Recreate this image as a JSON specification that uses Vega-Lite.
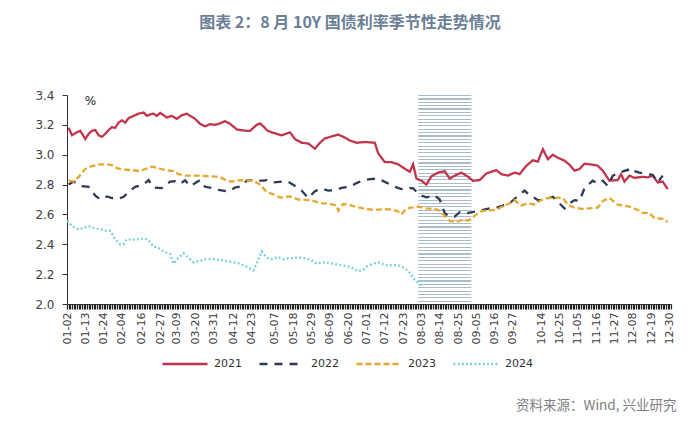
{
"$schema": "https://vega.github.io/schema/vega-lite/v6.json",
"width": 604, "height": 209,
"autosize": {"type": "none"},
"padding": {"left": 67, "top": 95, "right": 29, "bottom": 117},
"background": "white",
"title": {"text": "图表 2：8 月 10Y 国债利率季节性走势情况", "font": "Noto Sans CJK SC", "fontSize": 16, "fontWeight": "bold", "color": "#6b7f96", "anchor": "middle", "frame": "group", "offset": 58, "dx": -19},
"config": {"view": {"stroke": null}, "axis": {"grid": false}},
"resolve": {"axis": {"x": "independent"}},
"layer": [
{
"data": {"values": [{"md": "08-01", "end": "09-02"}], "format": {"parse": {"md": "utc:'%m-%d'", "end": "utc:'%m-%d'"}}},
"mark": {"type": "rect", "fill": {"gradient": "linear", "x1": 0, "y1": 0, "x2": 0, "y2": 1, "stops": [
{"offset":0,"color":"#a9bccb"},{"offset":0.0055,"color":"#a9bccb"},{"offset":0.0055,"color":"#ffffff"},{"offset":0.0161,"color":"#ffffff"},
{"offset":0.0161,"color":"#a9bccb"},{"offset":0.0216,"color":"#a9bccb"},{"offset":0.0216,"color":"#ffffff"},{"offset":0.0323,"color":"#ffffff"},
{"offset":0.0323,"color":"#a9bccb"},{"offset":0.0378,"color":"#a9bccb"},{"offset":0.0378,"color":"#ffffff"},{"offset":0.0484,"color":"#ffffff"},
{"offset":0.0484,"color":"#a9bccb"},{"offset":0.0539,"color":"#a9bccb"},{"offset":0.0539,"color":"#ffffff"},{"offset":0.0645,"color":"#ffffff"},
{"offset":0.0645,"color":"#a9bccb"},{"offset":0.07,"color":"#a9bccb"},{"offset":0.07,"color":"#ffffff"},{"offset":0.0806,"color":"#ffffff"},
{"offset":0.0806,"color":"#a9bccb"},{"offset":0.0861,"color":"#a9bccb"},{"offset":0.0861,"color":"#ffffff"},{"offset":0.0968,"color":"#ffffff"},
{"offset":0.0968,"color":"#a9bccb"},{"offset":0.1023,"color":"#a9bccb"},{"offset":0.1023,"color":"#ffffff"},{"offset":0.1129,"color":"#ffffff"},
{"offset":0.1129,"color":"#a9bccb"},{"offset":0.1184,"color":"#a9bccb"},{"offset":0.1184,"color":"#ffffff"},{"offset":0.129,"color":"#ffffff"},
{"offset":0.129,"color":"#a9bccb"},{"offset":0.1345,"color":"#a9bccb"},{"offset":0.1345,"color":"#ffffff"},{"offset":0.1452,"color":"#ffffff"},
{"offset":0.1452,"color":"#a9bccb"},{"offset":0.1507,"color":"#a9bccb"},{"offset":0.1507,"color":"#ffffff"},{"offset":0.1613,"color":"#ffffff"},
{"offset":0.1613,"color":"#a9bccb"},{"offset":0.1668,"color":"#a9bccb"},{"offset":0.1668,"color":"#ffffff"},{"offset":0.1774,"color":"#ffffff"},
{"offset":0.1774,"color":"#a9bccb"},{"offset":0.1829,"color":"#a9bccb"},{"offset":0.1829,"color":"#ffffff"},{"offset":0.1935,"color":"#ffffff"},
{"offset":0.1935,"color":"#a9bccb"},{"offset":0.199,"color":"#a9bccb"},{"offset":0.199,"color":"#ffffff"},{"offset":0.2097,"color":"#ffffff"},
{"offset":0.2097,"color":"#a9bccb"},{"offset":0.2152,"color":"#a9bccb"},{"offset":0.2152,"color":"#ffffff"},{"offset":0.2258,"color":"#ffffff"},
{"offset":0.2258,"color":"#a9bccb"},{"offset":0.2313,"color":"#a9bccb"},{"offset":0.2313,"color":"#ffffff"},{"offset":0.2419,"color":"#ffffff"},
{"offset":0.2419,"color":"#a9bccb"},{"offset":0.2474,"color":"#a9bccb"},{"offset":0.2474,"color":"#ffffff"},{"offset":0.2581,"color":"#ffffff"},
{"offset":0.2581,"color":"#a9bccb"},{"offset":0.2636,"color":"#a9bccb"},{"offset":0.2636,"color":"#ffffff"},{"offset":0.2742,"color":"#ffffff"},
{"offset":0.2742,"color":"#a9bccb"},{"offset":0.2797,"color":"#a9bccb"},{"offset":0.2797,"color":"#ffffff"},{"offset":0.2903,"color":"#ffffff"},
{"offset":0.2903,"color":"#a9bccb"},{"offset":0.2958,"color":"#a9bccb"},{"offset":0.2958,"color":"#ffffff"},{"offset":0.3065,"color":"#ffffff"},
{"offset":0.3065,"color":"#a9bccb"},{"offset":0.312,"color":"#a9bccb"},{"offset":0.312,"color":"#ffffff"},{"offset":0.3226,"color":"#ffffff"},
{"offset":0.3226,"color":"#a9bccb"},{"offset":0.3281,"color":"#a9bccb"},{"offset":0.3281,"color":"#ffffff"},{"offset":0.3387,"color":"#ffffff"},
{"offset":0.3387,"color":"#a9bccb"},{"offset":0.3442,"color":"#a9bccb"},{"offset":0.3442,"color":"#ffffff"},{"offset":0.3548,"color":"#ffffff"},
{"offset":0.3548,"color":"#a9bccb"},{"offset":0.3603,"color":"#a9bccb"},{"offset":0.3603,"color":"#ffffff"},{"offset":0.371,"color":"#ffffff"},
{"offset":0.371,"color":"#a9bccb"},{"offset":0.3765,"color":"#a9bccb"},{"offset":0.3765,"color":"#ffffff"},{"offset":0.3871,"color":"#ffffff"},
{"offset":0.3871,"color":"#a9bccb"},{"offset":0.3926,"color":"#a9bccb"},{"offset":0.3926,"color":"#ffffff"},{"offset":0.4032,"color":"#ffffff"},
{"offset":0.4032,"color":"#a9bccb"},{"offset":0.4087,"color":"#a9bccb"},{"offset":0.4087,"color":"#ffffff"},{"offset":0.4194,"color":"#ffffff"},
{"offset":0.4194,"color":"#a9bccb"},{"offset":0.4249,"color":"#a9bccb"},{"offset":0.4249,"color":"#ffffff"},{"offset":0.4355,"color":"#ffffff"},
{"offset":0.4355,"color":"#a9bccb"},{"offset":0.441,"color":"#a9bccb"},{"offset":0.441,"color":"#ffffff"},{"offset":0.4516,"color":"#ffffff"},
{"offset":0.4516,"color":"#a9bccb"},{"offset":0.4571,"color":"#a9bccb"},{"offset":0.4571,"color":"#ffffff"},{"offset":0.4677,"color":"#ffffff"},
{"offset":0.4677,"color":"#a9bccb"},{"offset":0.4732,"color":"#a9bccb"},{"offset":0.4732,"color":"#ffffff"},{"offset":0.4839,"color":"#ffffff"},
{"offset":0.4839,"color":"#a9bccb"},{"offset":0.4894,"color":"#a9bccb"},{"offset":0.4894,"color":"#ffffff"},{"offset":0.5,"color":"#ffffff"},
{"offset":0.5,"color":"#a9bccb"},{"offset":0.5055,"color":"#a9bccb"},{"offset":0.5055,"color":"#ffffff"},{"offset":0.5161,"color":"#ffffff"},
{"offset":0.5161,"color":"#a9bccb"},{"offset":0.5216,"color":"#a9bccb"},{"offset":0.5216,"color":"#ffffff"},{"offset":0.5323,"color":"#ffffff"},
{"offset":0.5323,"color":"#a9bccb"},{"offset":0.5378,"color":"#a9bccb"},{"offset":0.5378,"color":"#ffffff"},{"offset":0.5484,"color":"#ffffff"},
{"offset":0.5484,"color":"#a9bccb"},{"offset":0.5539,"color":"#a9bccb"},{"offset":0.5539,"color":"#ffffff"},{"offset":0.5645,"color":"#ffffff"},
{"offset":0.5645,"color":"#a9bccb"},{"offset":0.57,"color":"#a9bccb"},{"offset":0.57,"color":"#ffffff"},{"offset":0.5806,"color":"#ffffff"},
{"offset":0.5806,"color":"#a9bccb"},{"offset":0.5861,"color":"#a9bccb"},{"offset":0.5861,"color":"#ffffff"},{"offset":0.5968,"color":"#ffffff"},
{"offset":0.5968,"color":"#a9bccb"},{"offset":0.6023,"color":"#a9bccb"},{"offset":0.6023,"color":"#ffffff"},{"offset":0.6129,"color":"#ffffff"},
{"offset":0.6129,"color":"#a9bccb"},{"offset":0.6184,"color":"#a9bccb"},{"offset":0.6184,"color":"#ffffff"},{"offset":0.629,"color":"#ffffff"},
{"offset":0.629,"color":"#a9bccb"},{"offset":0.6345,"color":"#a9bccb"},{"offset":0.6345,"color":"#ffffff"},{"offset":0.6452,"color":"#ffffff"},
{"offset":0.6452,"color":"#a9bccb"},{"offset":0.6507,"color":"#a9bccb"},{"offset":0.6507,"color":"#ffffff"},{"offset":0.6613,"color":"#ffffff"},
{"offset":0.6613,"color":"#a9bccb"},{"offset":0.6668,"color":"#a9bccb"},{"offset":0.6668,"color":"#ffffff"},{"offset":0.6774,"color":"#ffffff"},
{"offset":0.6774,"color":"#a9bccb"},{"offset":0.6829,"color":"#a9bccb"},{"offset":0.6829,"color":"#ffffff"},{"offset":0.6935,"color":"#ffffff"},
{"offset":0.6935,"color":"#a9bccb"},{"offset":0.699,"color":"#a9bccb"},{"offset":0.699,"color":"#ffffff"},{"offset":0.7097,"color":"#ffffff"},
{"offset":0.7097,"color":"#a9bccb"},{"offset":0.7152,"color":"#a9bccb"},{"offset":0.7152,"color":"#ffffff"},{"offset":0.7258,"color":"#ffffff"},
{"offset":0.7258,"color":"#a9bccb"},{"offset":0.7313,"color":"#a9bccb"},{"offset":0.7313,"color":"#ffffff"},{"offset":0.7419,"color":"#ffffff"},
{"offset":0.7419,"color":"#a9bccb"},{"offset":0.7474,"color":"#a9bccb"},{"offset":0.7474,"color":"#ffffff"},{"offset":0.7581,"color":"#ffffff"},
{"offset":0.7581,"color":"#a9bccb"},{"offset":0.7636,"color":"#a9bccb"},{"offset":0.7636,"color":"#ffffff"},{"offset":0.7742,"color":"#ffffff"},
{"offset":0.7742,"color":"#a9bccb"},{"offset":0.7797,"color":"#a9bccb"},{"offset":0.7797,"color":"#ffffff"},{"offset":0.7903,"color":"#ffffff"},
{"offset":0.7903,"color":"#a9bccb"},{"offset":0.7958,"color":"#a9bccb"},{"offset":0.7958,"color":"#ffffff"},{"offset":0.8065,"color":"#ffffff"},
{"offset":0.8065,"color":"#a9bccb"},{"offset":0.812,"color":"#a9bccb"},{"offset":0.812,"color":"#ffffff"},{"offset":0.8226,"color":"#ffffff"},
{"offset":0.8226,"color":"#a9bccb"},{"offset":0.8281,"color":"#a9bccb"},{"offset":0.8281,"color":"#ffffff"},{"offset":0.8387,"color":"#ffffff"},
{"offset":0.8387,"color":"#a9bccb"},{"offset":0.8442,"color":"#a9bccb"},{"offset":0.8442,"color":"#ffffff"},{"offset":0.8548,"color":"#ffffff"},
{"offset":0.8548,"color":"#a9bccb"},{"offset":0.8603,"color":"#a9bccb"},{"offset":0.8603,"color":"#ffffff"},{"offset":0.871,"color":"#ffffff"},
{"offset":0.871,"color":"#a9bccb"},{"offset":0.8765,"color":"#a9bccb"},{"offset":0.8765,"color":"#ffffff"},{"offset":0.8871,"color":"#ffffff"},
{"offset":0.8871,"color":"#a9bccb"},{"offset":0.8926,"color":"#a9bccb"},{"offset":0.8926,"color":"#ffffff"},{"offset":0.9032,"color":"#ffffff"},
{"offset":0.9032,"color":"#a9bccb"},{"offset":0.9087,"color":"#a9bccb"},{"offset":0.9087,"color":"#ffffff"},{"offset":0.9194,"color":"#ffffff"},
{"offset":0.9194,"color":"#a9bccb"},{"offset":0.9249,"color":"#a9bccb"},{"offset":0.9249,"color":"#ffffff"},{"offset":0.9355,"color":"#ffffff"},
{"offset":0.9355,"color":"#a9bccb"},{"offset":0.941,"color":"#a9bccb"},{"offset":0.941,"color":"#ffffff"},{"offset":0.9516,"color":"#ffffff"},
{"offset":0.9516,"color":"#a9bccb"},{"offset":0.9571,"color":"#a9bccb"},{"offset":0.9571,"color":"#ffffff"},{"offset":0.9677,"color":"#ffffff"},
{"offset":0.9677,"color":"#a9bccb"},{"offset":0.9732,"color":"#a9bccb"},{"offset":0.9732,"color":"#ffffff"},{"offset":0.9839,"color":"#ffffff"},
{"offset":0.9839,"color":"#a9bccb"},{"offset":0.9894,"color":"#a9bccb"},{"offset":0.9894,"color":"#ffffff"},{"offset":1,"color":"#ffffff"}
]}},
"encoding": {
"x": {"field": "md", "type": "temporal", "scale": {"type": "utc"}, "axis": null},
"x2": {"field": "end"}
}
},
{
"data": {"values": [
{"year":"2021","md":"01-03","v":3.18},{"year":"2021","md":"01-05","v":3.13},{"year":"2021","md":"01-08","v":3.15},{"year":"2021","md":"01-10","v":3.16},{"year":"2021","md":"01-13","v":3.105},{"year":"2021","md":"01-15","v":3.14},{"year":"2021","md":"01-17","v":3.16},{"year":"2021","md":"01-19","v":3.165},{"year":"2021","md":"01-21","v":3.13},{"year":"2021","md":"01-23","v":3.12},{"year":"2021","md":"01-25","v":3.14},{"year":"2021","md":"01-27","v":3.165},{"year":"2021","md":"01-29","v":3.185},{"year":"2021","md":"01-31","v":3.18},{"year":"2021","md":"02-02","v":3.215},{"year":"2021","md":"02-04","v":3.23},{"year":"2021","md":"02-06","v":3.215},{"year":"2021","md":"02-08","v":3.245},{"year":"2021","md":"02-11","v":3.26},{"year":"2021","md":"02-14","v":3.275},{"year":"2021","md":"02-17","v":3.283},{"year":"2021","md":"02-19","v":3.26},{"year":"2021","md":"02-21","v":3.27},{"year":"2021","md":"02-23","v":3.275},{"year":"2021","md":"02-25","v":3.26},{"year":"2021","md":"02-27","v":3.28},{"year":"2021","md":"03-03","v":3.25},{"year":"2021","md":"03-06","v":3.26},{"year":"2021","md":"03-09","v":3.24},{"year":"2021","md":"03-12","v":3.265},{"year":"2021","md":"03-15","v":3.275},{"year":"2021","md":"03-17","v":3.26},{"year":"2021","md":"03-20","v":3.24},{"year":"2021","md":"03-23","v":3.207},{"year":"2021","md":"03-26","v":3.19},{"year":"2021","md":"03-29","v":3.205},{"year":"2021","md":"04-01","v":3.2},{"year":"2021","md":"04-04","v":3.21},{"year":"2021","md":"04-07","v":3.225},{"year":"2021","md":"04-10","v":3.207},{"year":"2021","md":"04-14","v":3.17},{"year":"2021","md":"04-16","v":3.165},{"year":"2021","md":"04-20","v":3.16},{"year":"2021","md":"04-22","v":3.16},{"year":"2021","md":"04-26","v":3.2},{"year":"2021","md":"04-28","v":3.21},{"year":"2021","md":"04-30","v":3.19},{"year":"2021","md":"05-02","v":3.165},{"year":"2021","md":"05-05","v":3.15},{"year":"2021","md":"05-08","v":3.14},{"year":"2021","md":"05-11","v":3.13},{"year":"2021","md":"05-16","v":3.15},{"year":"2021","md":"05-19","v":3.105},{"year":"2021","md":"05-23","v":3.08},{"year":"2021","md":"05-27","v":3.075},{"year":"2021","md":"05-31","v":3.04},{"year":"2021","md":"06-03","v":3.08},{"year":"2021","md":"06-06","v":3.11},{"year":"2021","md":"06-11","v":3.125},{"year":"2021","md":"06-14","v":3.135},{"year":"2021","md":"06-17","v":3.12},{"year":"2021","md":"06-21","v":3.095},{"year":"2021","md":"06-25","v":3.08},{"year":"2021","md":"06-30","v":3.085},{"year":"2021","md":"07-06","v":3.08},{"year":"2021","md":"07-08","v":3.01},{"year":"2021","md":"07-12","v":2.95},{"year":"2021","md":"07-16","v":2.95},{"year":"2021","md":"07-20","v":2.936},{"year":"2021","md":"07-23","v":2.914},{"year":"2021","md":"07-27","v":2.885},{"year":"2021","md":"07-29","v":2.936},{"year":"2021","md":"07-31","v":2.84},{"year":"2021","md":"08-03","v":2.826},{"year":"2021","md":"08-06","v":2.8},{"year":"2021","md":"08-09","v":2.855},{"year":"2021","md":"08-13","v":2.88},{"year":"2021","md":"08-17","v":2.89},{"year":"2021","md":"08-20","v":2.84},{"year":"2021","md":"08-24","v":2.865},{"year":"2021","md":"08-27","v":2.88},{"year":"2021","md":"08-30","v":2.86},{"year":"2021","md":"09-03","v":2.826},{"year":"2021","md":"09-07","v":2.83},{"year":"2021","md":"09-11","v":2.874},{"year":"2021","md":"09-17","v":2.897},{"year":"2021","md":"09-20","v":2.87},{"year":"2021","md":"09-24","v":2.86},{"year":"2021","md":"09-28","v":2.88},{"year":"2021","md":"10-01","v":2.87},{"year":"2021","md":"10-05","v":2.925},{"year":"2021","md":"10-09","v":2.963},{"year":"2021","md":"10-12","v":2.954},{"year":"2021","md":"10-15","v":3.037},{"year":"2021","md":"10-18","v":2.97},{"year":"2021","md":"10-21","v":3.0},{"year":"2021","md":"10-24","v":2.98},{"year":"2021","md":"10-28","v":2.96},{"year":"2021","md":"10-31","v":2.933},{"year":"2021","md":"11-03","v":2.893},{"year":"2021","md":"11-06","v":2.904},{"year":"2021","md":"11-09","v":2.94},{"year":"2021","md":"11-14","v":2.933},{"year":"2021","md":"11-17","v":2.926},{"year":"2021","md":"11-20","v":2.893},{"year":"2021","md":"11-24","v":2.826},{"year":"2021","md":"11-29","v":2.83},{"year":"2021","md":"12-01","v":2.87},{"year":"2021","md":"12-03","v":2.82},{"year":"2021","md":"12-06","v":2.86},{"year":"2021","md":"12-09","v":2.845},{"year":"2021","md":"12-14","v":2.852},{"year":"2021","md":"12-17","v":2.848},{"year":"2021","md":"12-20","v":2.86},{"year":"2021","md":"12-23","v":2.814},{"year":"2021","md":"12-26","v":2.82},{"year":"2021","md":"12-29","v":2.77},
{"year":"2022","md":"01-03","v":2.8},{"year":"2022","md":"01-06","v":2.82},{"year":"2022","md":"01-11","v":2.79},{"year":"2022","md":"01-15","v":2.785},{"year":"2022","md":"01-19","v":2.725},{"year":"2022","md":"01-22","v":2.7},{"year":"2022","md":"01-26","v":2.72},{"year":"2022","md":"01-29","v":2.71},{"year":"2022","md":"02-02","v":2.705},{"year":"2022","md":"02-05","v":2.718},{"year":"2022","md":"02-09","v":2.76},{"year":"2022","md":"02-12","v":2.785},{"year":"2022","md":"02-17","v":2.8},{"year":"2022","md":"02-20","v":2.83},{"year":"2022","md":"02-23","v":2.78},{"year":"2022","md":"02-28","v":2.776},{"year":"2022","md":"03-05","v":2.82},{"year":"2022","md":"03-08","v":2.822},{"year":"2022","md":"03-11","v":2.805},{"year":"2022","md":"03-14","v":2.828},{"year":"2022","md":"03-17","v":2.79},{"year":"2022","md":"03-23","v":2.83},{"year":"2022","md":"03-26","v":2.785},{"year":"2022","md":"03-31","v":2.776},{"year":"2022","md":"04-04","v":2.762},{"year":"2022","md":"04-09","v":2.754},{"year":"2022","md":"04-13","v":2.78},{"year":"2022","md":"04-17","v":2.79},{"year":"2022","md":"04-20","v":2.826},{"year":"2022","md":"04-24","v":2.83},{"year":"2022","md":"04-27","v":2.826},{"year":"2022","md":"04-30","v":2.826},{"year":"2022","md":"05-02","v":2.83},{"year":"2022","md":"05-06","v":2.814},{"year":"2022","md":"05-12","v":2.82},{"year":"2022","md":"05-15","v":2.818},{"year":"2022","md":"05-20","v":2.785},{"year":"2022","md":"05-23","v":2.76},{"year":"2022","md":"05-27","v":2.71},{"year":"2022","md":"05-31","v":2.755},{"year":"2022","md":"06-04","v":2.774},{"year":"2022","md":"06-08","v":2.76},{"year":"2022","md":"06-12","v":2.762},{"year":"2022","md":"06-16","v":2.778},{"year":"2022","md":"06-21","v":2.785},{"year":"2022","md":"06-25","v":2.81},{"year":"2022","md":"06-29","v":2.828},{"year":"2022","md":"07-03","v":2.837},{"year":"2022","md":"07-08","v":2.84},{"year":"2022","md":"07-12","v":2.818},{"year":"2022","md":"07-18","v":2.785},{"year":"2022","md":"07-22","v":2.77},{"year":"2022","md":"07-27","v":2.777},{"year":"2022","md":"07-29","v":2.775},{"year":"2022","md":"08-02","v":2.73},{"year":"2022","md":"08-06","v":2.715},{"year":"2022","md":"08-11","v":2.728},{"year":"2022","md":"08-14","v":2.7},{"year":"2022","md":"08-17","v":2.61},{"year":"2022","md":"08-19","v":2.59},{"year":"2022","md":"08-23","v":2.585},{"year":"2022","md":"08-26","v":2.615},{"year":"2022","md":"08-29","v":2.605},{"year":"2022","md":"09-01","v":2.612},{"year":"2022","md":"09-05","v":2.62},{"year":"2022","md":"09-09","v":2.63},{"year":"2022","md":"09-13","v":2.64},{"year":"2022","md":"09-17","v":2.645},{"year":"2022","md":"09-21","v":2.66},{"year":"2022","md":"09-25","v":2.674},{"year":"2022","md":"09-28","v":2.705},{"year":"2022","md":"10-04","v":2.76},{"year":"2022","md":"10-06","v":2.74},{"year":"2022","md":"10-12","v":2.696},{"year":"2022","md":"10-14","v":2.696},{"year":"2022","md":"10-21","v":2.718},{"year":"2022","md":"10-28","v":2.64},{"year":"2022","md":"10-31","v":2.674},{"year":"2022","md":"11-03","v":2.696},{"year":"2022","md":"11-06","v":2.69},{"year":"2022","md":"11-09","v":2.776},{"year":"2022","md":"11-14","v":2.826},{"year":"2022","md":"11-17","v":2.807},{"year":"2022","md":"11-20","v":2.826},{"year":"2022","md":"11-23","v":2.79},{"year":"2022","md":"11-26","v":2.86},{"year":"2022","md":"11-29","v":2.874},{"year":"2022","md":"12-05","v":2.9},{"year":"2022","md":"12-06","v":2.88},{"year":"2022","md":"12-09","v":2.89},{"year":"2022","md":"12-12","v":2.88},{"year":"2022","md":"12-17","v":2.87},{"year":"2022","md":"12-20","v":2.866},{"year":"2022","md":"12-23","v":2.814},{"year":"2022","md":"12-26","v":2.86},
{"year":"2023","md":"01-03","v":2.826},{"year":"2023","md":"01-06","v":2.82},{"year":"2023","md":"01-09","v":2.85},{"year":"2023","md":"01-11","v":2.88},{"year":"2023","md":"01-13","v":2.905},{"year":"2023","md":"01-16","v":2.92},{"year":"2023","md":"01-21","v":2.935},{"year":"2023","md":"01-26","v":2.936},{"year":"2023","md":"01-29","v":2.93},{"year":"2023","md":"02-01","v":2.91},{"year":"2023","md":"02-05","v":2.9},{"year":"2023","md":"02-10","v":2.897},{"year":"2023","md":"02-15","v":2.89},{"year":"2023","md":"02-18","v":2.904},{"year":"2023","md":"02-22","v":2.92},{"year":"2023","md":"02-27","v":2.906},{"year":"2023","md":"03-03","v":2.895},{"year":"2023","md":"03-07","v":2.89},{"year":"2023","md":"03-10","v":2.87},{"year":"2023","md":"03-14","v":2.86},{"year":"2023","md":"03-19","v":2.86},{"year":"2023","md":"03-23","v":2.86},{"year":"2023","md":"03-27","v":2.857},{"year":"2023","md":"03-31","v":2.855},{"year":"2023","md":"04-04","v":2.85},{"year":"2023","md":"04-08","v":2.826},{"year":"2023","md":"04-11","v":2.82},{"year":"2023","md":"04-16","v":2.83},{"year":"2023","md":"04-20","v":2.826},{"year":"2023","md":"04-24","v":2.826},{"year":"2023","md":"04-28","v":2.8},{"year":"2023","md":"05-02","v":2.75},{"year":"2023","md":"05-06","v":2.735},{"year":"2023","md":"05-10","v":2.713},{"year":"2023","md":"05-16","v":2.72},{"year":"2023","md":"05-21","v":2.7},{"year":"2023","md":"05-26","v":2.698},{"year":"2023","md":"05-30","v":2.69},{"year":"2023","md":"06-04","v":2.675},{"year":"2023","md":"06-09","v":2.67},{"year":"2023","md":"06-13","v":2.66},{"year":"2023","md":"06-14","v":2.625},{"year":"2023","md":"06-17","v":2.67},{"year":"2023","md":"06-21","v":2.663},{"year":"2023","md":"06-25","v":2.65},{"year":"2023","md":"06-29","v":2.64},{"year":"2023","md":"07-04","v":2.632},{"year":"2023","md":"07-08","v":2.632},{"year":"2023","md":"07-13","v":2.635},{"year":"2023","md":"07-17","v":2.63},{"year":"2023","md":"07-20","v":2.62},{"year":"2023","md":"07-22","v":2.6},{"year":"2023","md":"07-25","v":2.64},{"year":"2023","md":"07-28","v":2.645},{"year":"2023","md":"08-01","v":2.652},{"year":"2023","md":"08-06","v":2.64},{"year":"2023","md":"08-11","v":2.637},{"year":"2023","md":"08-14","v":2.625},{"year":"2023","md":"08-17","v":2.59},{"year":"2023","md":"08-20","v":2.557},{"year":"2023","md":"08-24","v":2.55},{"year":"2023","md":"08-28","v":2.565},{"year":"2023","md":"08-31","v":2.557},{"year":"2023","md":"09-04","v":2.59},{"year":"2023","md":"09-07","v":2.62},{"year":"2023","md":"09-12","v":2.627},{"year":"2023","md":"09-17","v":2.632},{"year":"2023","md":"09-22","v":2.66},{"year":"2023","md":"09-25","v":2.674},{"year":"2023","md":"09-28","v":2.695},{"year":"2023","md":"10-02","v":2.66},{"year":"2023","md":"10-06","v":2.674},{"year":"2023","md":"10-10","v":2.667},{"year":"2023","md":"10-14","v":2.696},{"year":"2023","md":"10-18","v":2.71},{"year":"2023","md":"10-22","v":2.713},{"year":"2023","md":"10-27","v":2.71},{"year":"2023","md":"10-30","v":2.665},{"year":"2023","md":"11-03","v":2.646},{"year":"2023","md":"11-07","v":2.637},{"year":"2023","md":"11-11","v":2.64},{"year":"2023","md":"11-17","v":2.646},{"year":"2023","md":"11-20","v":2.69},{"year":"2023","md":"11-24","v":2.71},{"year":"2023","md":"11-29","v":2.665},{"year":"2023","md":"12-02","v":2.66},{"year":"2023","md":"12-06","v":2.653},{"year":"2023","md":"12-11","v":2.63},{"year":"2023","md":"12-14","v":2.61},{"year":"2023","md":"12-18","v":2.61},{"year":"2023","md":"12-21","v":2.575},{"year":"2023","md":"12-26","v":2.57},{"year":"2023","md":"12-29","v":2.55},
{"year":"2024","md":"01-02","v":2.557},{"year":"2024","md":"01-05","v":2.522},{"year":"2024","md":"01-09","v":2.5},{"year":"2024","md":"01-12","v":2.51},{"year":"2024","md":"01-15","v":2.522},{"year":"2024","md":"01-18","v":2.51},{"year":"2024","md":"01-22","v":2.5},{"year":"2024","md":"01-26","v":2.49},{"year":"2024","md":"01-28","v":2.49},{"year":"2024","md":"01-31","v":2.432},{"year":"2024","md":"02-03","v":2.4},{"year":"2024","md":"02-05","v":2.4},{"year":"2024","md":"02-07","v":2.435},{"year":"2024","md":"02-10","v":2.43},{"year":"2024","md":"02-15","v":2.435},{"year":"2024","md":"02-18","v":2.44},{"year":"2024","md":"02-20","v":2.425},{"year":"2024","md":"02-23","v":2.385},{"year":"2024","md":"02-27","v":2.37},{"year":"2024","md":"03-01","v":2.35},{"year":"2024","md":"03-05","v":2.335},{"year":"2024","md":"03-07","v":2.27},{"year":"2024","md":"03-10","v":2.31},{"year":"2024","md":"03-13","v":2.34},{"year":"2024","md":"03-16","v":2.31},{"year":"2024","md":"03-19","v":2.28},{"year":"2024","md":"03-23","v":2.29},{"year":"2024","md":"03-26","v":2.3},{"year":"2024","md":"03-31","v":2.3},{"year":"2024","md":"04-04","v":2.295},{"year":"2024","md":"04-09","v":2.285},{"year":"2024","md":"04-12","v":2.28},{"year":"2024","md":"04-16","v":2.27},{"year":"2024","md":"04-20","v":2.25},{"year":"2024","md":"04-24","v":2.225},{"year":"2024","md":"04-26","v":2.27},{"year":"2024","md":"04-29","v":2.352},{"year":"2024","md":"05-02","v":2.31},{"year":"2024","md":"05-05","v":2.3},{"year":"2024","md":"05-09","v":2.315},{"year":"2024","md":"05-12","v":2.3},{"year":"2024","md":"05-18","v":2.31},{"year":"2024","md":"05-23","v":2.31},{"year":"2024","md":"05-28","v":2.3},{"year":"2024","md":"06-01","v":2.27},{"year":"2024","md":"06-06","v":2.28},{"year":"2024","md":"06-11","v":2.27},{"year":"2024","md":"06-16","v":2.26},{"year":"2024","md":"06-21","v":2.25},{"year":"2024","md":"06-26","v":2.22},{"year":"2024","md":"06-29","v":2.23},{"year":"2024","md":"07-01","v":2.25},{"year":"2024","md":"07-05","v":2.27},{"year":"2024","md":"07-08","v":2.28},{"year":"2024","md":"07-12","v":2.26},{"year":"2024","md":"07-16","v":2.26},{"year":"2024","md":"07-20","v":2.26},{"year":"2024","md":"07-24","v":2.24},{"year":"2024","md":"07-27","v":2.21},{"year":"2024","md":"07-30","v":2.16},{"year":"2024","md":"08-03","v":2.126}
], "format": {"parse": {"md": "utc:'%m-%d'"}}},
"mark": {"type": "line", "strokeWidth": 2.3, "strokeCap": "butt"},
"encoding": {
"x": {"field": "md", "type": "temporal",
  "scale": {"type": "utc", "domain": [{"year": 1900, "month": 1, "date": 2, "utc": true}, {"year": 1900, "month": 12, "date": 31, "utc": true}]},
  "axis": {"title": "资料来源：Wind, 兴业研究", "titleX": 609, "titleY": 101, "titleAlign": "right", "titleBaseline": "middle", "titleFont": "Noto Sans CJK SC", "titleFontSize": 13.5, "titleFontWeight": "normal", "titleColor": "#808080",
    "tickCount": {"interval": "day", "step": 1},
    "labelExpr": "indexof(['01-02','01-13','01-24','02-04','02-16','02-27','03-09','03-20','03-31','04-12','04-23','05-07','05-18','05-29','06-09','06-20','07-01','07-12','07-23','08-03','08-14','08-25','09-05','09-16','09-27','10-14','10-25','11-05','11-16','11-27','12-08','12-19','12-30'], utcFormat(datum.value, '%m-%d')) >= 0 ? utcFormat(datum.value, '%m-%d') : ''",
    "labelAngle": -90, "labelAlign": "right", "labelBaseline": "middle", "labelOverlap": false, "labelBound": false, "labelFlush": false,
    "labelFont": "DejaVu Sans", "labelFontSize": 11, "labelColor": "#404040", "labelPadding": 3,
    "tickSize": 5, "tickColor": "#222222", "tickWidth": 1.2, "domainColor": "#333333", "domainWidth": 1, "grid": false}},
"y": {"field": "v", "type": "quantitative",
  "scale": {"domain": [2.0, 3.4], "nice": false, "zero": false},
  "axis": {"title": "%", "titleAngle": 0, "titleX": 23, "titleY": 5, "titleAlign": "center", "titleBaseline": "middle", "titleFont": "DejaVu Sans", "titleFontSize": 12, "titleFontWeight": "normal", "titleColor": "#222222",
    "values": [2.0, 2.2, 2.4, 2.6, 2.8, 3.0, 3.2, 3.4], "format": ".1f",
    "labelFont": "DejaVu Sans", "labelFontSize": 12, "labelColor": "#404040", "labelPadding": 8,
    "tickSize": 5, "tickColor": "#333333", "domainColor": "#333333", "grid": false}},
"color": {"field": "year", "type": "nominal",
  "scale": {"domain": ["2021", "2022", "2023", "2024"], "range": ["#c0354d", "#2d3b55", "#e6a731", "#6ccfd5"]},
  "legend": {"orient": "none", "legendX": 94, "legendY": 245, "direction": "horizontal", "title": null, "symbolType": "stroke", "symbolSize": 2025, "symbolStrokeWidth": 2.3, "labelFont": "DejaVu Sans", "labelFontSize": 11, "labelColor": "#333333", "columnPadding": 12, "labelOffset": 5, "padding": 0}},
"strokeDash": {"field": "year", "type": "nominal",
  "scale": {"domain": ["2021", "2022", "2023", "2024"], "range": [[1, 0], [8, 7], [6, 3], [1.8, 2.4]]}}
}
}
]
}
